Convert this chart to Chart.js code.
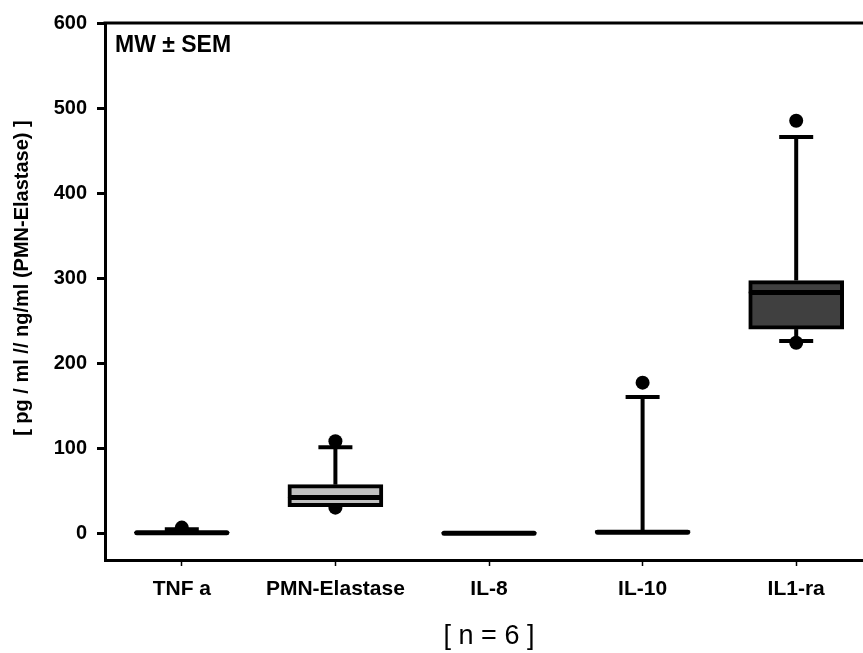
<!DOCTYPE html>
<html>
<head>
<meta charset="utf-8">
<script src="https://cdn.jsdelivr.net/npm/chart.js@4.4.1/dist/chart.umd.min.js"></script>
<style>
  html, body { margin: 0; padding: 0; background: #fff; }
  #wrap { width: 863px; height: 653px; overflow: hidden; }
</style>
</head>
<body>
<div id="wrap"><canvas id="boxChart" width="880" height="653"></canvas></div>
<script>
// Box plot data per marker
const categories = ['TNF a', 'PMN-Elastase', 'IL-8', 'IL-10', 'IL1-ra'];
const q1Values = [0, 31, 0, 0, 240];
const medianValues = [0.5, 42, 0, 1, 283];
const q3Values = [1, 57, 0.3, 3, 297];
const whiskerLow = [0, 31, 0, 0, 226];
const whiskerHigh = [4.5, 101, 0.3, 160, 466];
const outliersHigh = [6.5, 108, null, 177, 485];
const outliersLow = [null, 30, null, null, 224];
const yTickValues = [0, 100, 200, 300, 400, 500, 600];

const boxColors = ['#ffffff', '#c0c0c0', '#ffffff', '#ffffff', '#404040'];
const FONT = "'Liberation Sans', Arial, Helvetica, sans-serif";

function seg(ctx, x1, y1, x2, y2) {
    ctx.beginPath();
    ctx.moveTo(x1, y1);
    ctx.lineTo(x2, y2);
    ctx.stroke();
}

// whiskers, caps, medians, frame and labels
const boxWhiskers = {
    id: 'boxWhiskers',
    beforeDatasetsDraw(chart) {
        const { ctx, scales: { x, y } } = chart;
        const capHalf = 17;
        ctx.save();
        ctx.strokeStyle = '#000';
        ctx.lineWidth = 4;
        categories.forEach((c, i) => {
            const cx = x.getPixelForValue(i);
            if (whiskerHigh[i] > q3Values[i]) {
                const yh = y.getPixelForValue(whiskerHigh[i]);
                seg(ctx, cx, y.getPixelForValue(q3Values[i]), cx, yh);
                seg(ctx, cx - capHalf, yh, cx + capHalf, yh);
            }
            if (whiskerLow[i] < q1Values[i]) {
                const yl = y.getPixelForValue(whiskerLow[i]);
                seg(ctx, cx, y.getPixelForValue(q1Values[i]), cx, yl);
                seg(ctx, cx - capHalf, yl, cx + capHalf, yl);
            }
        });
        ctx.restore();
    },
    afterDatasetsDraw(chart) {
        const { ctx, chartArea, scales: { x, y } } = chart;
        const meta = chart.getDatasetMeta(0);
        ctx.save();
        ctx.strokeStyle = '#000';
        ctx.lineWidth = 5;
        ctx.lineCap = 'round';
        meta.data.forEach((bar, i) => {
            const half = bar.width / 2 - 2.5;
            const ym = y.getPixelForValue(medianValues[i]);
            seg(ctx, bar.x - half, ym, bar.x + half, ym);
        });

        // top frame line
        ctx.lineCap = 'butt';
        ctx.lineWidth = 3;
        seg(ctx, chartArea.left - 1.5, chartArea.top, chart.width, chartArea.top);

        // annotation
        ctx.fillStyle = '#000';
        ctx.font = 'bold 23px ' + FONT;
        ctx.textAlign = 'left';
        ctx.textBaseline = 'alphabetic';
        ctx.fillText('MW \u00B1 SEM', chartArea.left + 10, chartArea.top + 29);

        // y axis title, centred on the 0..600 range
        const yc = (y.getPixelForValue(0) + y.getPixelForValue(600)) / 2;
        ctx.translate(22, yc);
        ctx.rotate(-Math.PI / 2);
        ctx.font = 'bold 20px ' + FONT;
        ctx.textAlign = 'center';
        ctx.textBaseline = 'middle';
        ctx.fillText('[ pg / ml // ng/ml (PMN-Elastase) ]', 0, 0);
        ctx.restore();
    }
};

try {
    const ctx = document.getElementById('boxChart').getContext('2d');
    new Chart(ctx, {
        type: 'bar',
        data: {
            labels: categories,
            datasets: [
                {
                    label: 'Box',
                    data: categories.map((c, i) => [q1Values[i], q3Values[i]]),
                    backgroundColor: boxColors,
                    borderColor: '#000',
                    borderWidth: 4,
                    borderSkipped: false,
                    barThickness: 95
                },
                {
                    type: 'line',
                    label: 'Ausreißer oben',
                    data: outliersHigh,
                    showLine: false,
                    pointRadius: 7,
                    pointBackgroundColor: '#000',
                    pointBorderWidth: 0
                },
                {
                    type: 'line',
                    label: 'Ausreißer unten',
                    data: outliersLow,
                    showLine: false,
                    pointRadius: 7,
                    pointBackgroundColor: '#000',
                    pointBorderWidth: 0
                }
            ]
        },
        options: {
            responsive: false,
            animation: false,
            devicePixelRatio: 1,
            layout: { padding: { left: 0, top: 23, right: 5, bottom: 0 } },
            plugins: {
                legend: { display: false },
                tooltip: { enabled: false }
            },
            scales: {
                x: {
                    offset: true,
                    afterFit: scale => { scale.height = 93; },
                    border: { display: true, color: '#000', width: 3 },
                    grid: {
                        offset: false,
                        drawOnChartArea: false,
                        drawTicks: true,
                        tickLength: 6,
                        tickWidth: 1.5,
                        tickColor: '#000'
                    },
                    ticks: {
                        color: '#000',
                        font: { family: FONT, size: 21, weight: 'bold' },
                        padding: 11,
                        maxRotation: 0,
                        autoSkip: false
                    },
                    title: {
                        display: true,
                        text: '[ n = 6 ]',
                        color: '#000',
                        font: { family: FONT, size: 27 },
                        padding: { top: 0, bottom: 0 }
                    }
                },
                y: {
                    min: -31.6,
                    max: 600,
                    afterFit: scale => { scale.width = 105; },
                    afterBuildTicks: scale => {
                        scale.ticks = yTickValues.map(v => ({ value: v }));
                    },
                    border: { display: true, color: '#000', width: 3 },
                    grid: {
                        drawOnChartArea: false,
                        drawTicks: true,
                        tickLength: 8,
                        tickWidth: 3,
                        tickColor: '#000'
                    },
                    ticks: {
                        color: '#000',
                        font: { family: FONT, size: 20, weight: 'bold' },
                        padding: 10,
                        callback: v => String(v)
                    }
                }
            }
        },
        plugins: [boxWhiskers]
    });
} catch (chartError) {
    console.error('[Chart] Fehler beim Zeichnen:', chartError);
}
</script>
</body>
</html>
